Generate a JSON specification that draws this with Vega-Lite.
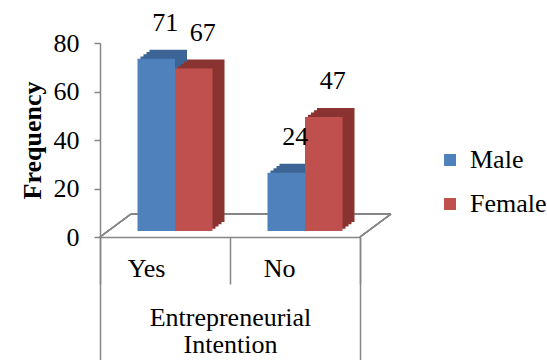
{
  "$schema": "https://vega.github.io/schema/vega-lite/v6.json",
  "width": 260,
  "height": 194,
  "autosize": {"type": "none"},
  "padding": {"left": 100, "top": 43, "right": 187, "bottom": 123},
  "background": "white",
  "config": {
    "view": {"stroke": null},
    "font": "Liberation Serif, Times New Roman, serif",
    "text": {"font": "Liberation Serif, Times New Roman, serif"},
    "legend": {"labelFont": "Liberation Serif, Times New Roman, serif"},
    "axis": {
      "domainColor": "#868686",
      "domainWidth": 1.5,
      "tickColor": "#868686",
      "tickWidth": 1.5,
      "labelColor": "#000000",
      "titleColor": "#000000",
      "labelFont": "Liberation Serif, Times New Roman, serif",
      "titleFont": "Liberation Serif, Times New Roman, serif",
      "labelFontSize": 26,
      "titleFontSize": 26,
      "grid": false
    }
  },
  "datasets": {
    "bars": [
      {"intention": "Yes", "sex": "Male", "frequency": 71},
      {"intention": "Yes", "sex": "Female", "frequency": 67},
      {"intention": "No", "sex": "Male", "frequency": 24},
      {"intention": "No", "sex": "Female", "frequency": 47}
    ],
    "group": [{"label": "Entrepreneurial Intention"}]
  },
  "layer": [
    {
      "data": {"name": "bars"},
      "layer": [
        {
          "mark": {"type": "rule", "color": "#868686", "strokeWidth": 1.5, "xOffset": 31, "x2Offset": 31, "yOffset": -23, "y2Offset": -23},
          "encoding": {
            "x": {"datum": "Yes", "type": "nominal", "bandPosition": 0, "title": null},
            "x2": {"datum": "No", "bandPosition": 1},
            "y": {"datum": 0, "type": "quantitative", "scale": {"domain": [0, 80]}, "title": "Frequency"},
            "y2": {"datum": 0}
          }
        },
        {
          "mark": {"type": "rule", "color": "#868686", "strokeWidth": 1.5, "x2Offset": 31, "y2Offset": -23},
          "encoding": {
            "x": {"datum": "Yes", "type": "nominal", "bandPosition": 0, "title": null},
            "x2": {"datum": "Yes", "bandPosition": 0},
            "y": {"datum": 0, "type": "quantitative", "title": "Frequency"},
            "y2": {"datum": 0}
          }
        },
        {
          "mark": {"type": "rule", "color": "#868686", "strokeWidth": 1.5, "x2Offset": 31, "y2Offset": -23},
          "encoding": {
            "x": {"datum": "No", "type": "nominal", "bandPosition": 1, "title": null},
            "x2": {"datum": "No", "bandPosition": 1},
            "y": {"datum": 0, "type": "quantitative", "title": "Frequency"},
            "y2": {"datum": 0}
          }
        },
        {
          "transform": [{"filter": "datum.sex == 'Male'"}],
          "layer": [
            {"mark": {"type": "bar", "width": 37.5, "color": "#3C6494", "xOffset": 3.25, "yOffset": -15, "y2Offset": -15}},
            {"mark": {"type": "bar", "width": 37.5, "color": "#3C6494", "xOffset": 0.25, "yOffset": -12.75, "y2Offset": -12.75}},
            {"mark": {"type": "bar", "width": 37.5, "color": "#3C6494", "xOffset": -2.75, "yOffset": -10.5, "y2Offset": -10.5}},
            {"mark": {"type": "bar", "width": 37.5, "color": "#3C6494", "xOffset": -5.75, "yOffset": -8.25, "y2Offset": -8.25}}
          ],
          "encoding": {
            "x": {"field": "intention", "type": "nominal", "sort": ["Yes", "No"], "title": null},
            "y": {"field": "frequency", "type": "quantitative", "title": "Frequency"}
          }
        },
        {
          "transform": [{"filter": "datum.sex == 'Female'"}],
          "layer": [
            {"mark": {"type": "bar", "width": 37.5, "color": "#8A3331", "xOffset": 40.75, "yOffset": -15, "y2Offset": -15}},
            {"mark": {"type": "bar", "width": 37.5, "color": "#8A3331", "xOffset": 37.75, "yOffset": -12.75, "y2Offset": -12.75}},
            {"mark": {"type": "bar", "width": 37.5, "color": "#8A3331", "xOffset": 34.75, "yOffset": -10.5, "y2Offset": -10.5}},
            {"mark": {"type": "bar", "width": 37.5, "color": "#8A3331", "xOffset": 31.75, "yOffset": -8.25, "y2Offset": -8.25}}
          ],
          "encoding": {
            "x": {"field": "intention", "type": "nominal", "sort": ["Yes", "No"], "title": null},
            "y": {"field": "frequency", "type": "quantitative", "title": "Frequency"}
          }
        },
        {
          "mark": {"type": "bar", "yOffset": -6, "y2Offset": -6},
          "encoding": {
            "x": {"field": "intention", "type": "nominal", "sort": ["Yes", "No"], "title": null,
                  "scale": {"paddingInner": 0, "paddingOuter": 0},
                  "axis": {"tickBand": "extent", "tickSize": 47, "labelPadding": -16, "labelAngle": 0, "title": null}},
            "xOffset": {"field": "sex", "type": "nominal", "sort": ["Male", "Female"], "scale": {"paddingInner": 0, "paddingOuter": 0, "range": [37.5, 112.5]}},
            "y": {"field": "frequency", "type": "quantitative", "title": "Frequency",
                  "axis": {"values": [0, 20, 40, 60, 80], "tickSize": 6, "labelPadding": 15, "titleFontWeight": "bold", "titleFontSize": 26, "titlePadding": 8}},
            "color": {"field": "sex", "type": "nominal", "sort": ["Male", "Female"],
                      "scale": {"domain": ["Male", "Female"], "range": ["#4F81BD", "#C0504D"]},
                      "legend": {"orient": "none", "legendX": 337, "legendY": 104, "title": null, "symbolType": "square", "symbolSize": 144, "symbolStrokeWidth": 0, "labelFontSize": 26, "labelFont": "Liberation Serif, Times New Roman, serif", "labelColor": "#000000", "rowPadding": 18, "labelOffset": 7}}
          }
        },
        {
          "mark": {"type": "text", "fontSize": 26, "font": "Liberation Serif, Times New Roman, serif", "color": "#000000", "baseline": "alphabetic", "dx": 9, "dy": -34},
          "encoding": {
            "x": {"field": "intention", "type": "nominal", "sort": ["Yes", "No"], "title": null},
            "xOffset": {"field": "sex", "type": "nominal", "sort": ["Male", "Female"]},
            "y": {"field": "frequency", "type": "quantitative", "title": "Frequency"},
            "text": {"field": "frequency", "type": "quantitative"}
          }
        }
      ]
    },
    {
      "data": {"name": "group"},
      "mark": {"type": "text", "text": ""},
      "encoding": {
        "x": {"field": "label", "type": "nominal",
              "scale": {"paddingInner": 0, "paddingOuter": 0},
              "axis": {"orient": "bottom", "labels": false, "domain": false, "tickBand": "extent", "tickSize": 124,
                       "title": ["Entrepreneurial", "Intention"], "titleFontWeight": "normal", "titleFontSize": 26,
                       "titleY": 88, "titleBaseline": "alphabetic", "titleLineHeight": 27}}
      }
    }
  ],
  "resolve": {"scale": {"x": "independent"}, "axis": {"x": "independent"}}
}
